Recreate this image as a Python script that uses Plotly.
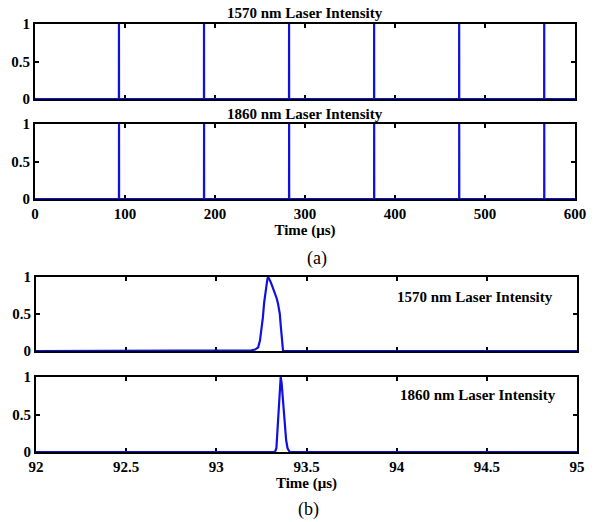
import plotly.graph_objects as go

# ---- data ----
pulse_times_1570 = [93.29, 187.8, 282.3, 376.8, 471.3, 565.8]
pulse_times_1860 = [93.36, 187.85, 282.35, 376.85, 471.35, 565.85]
pulse_halfwidth = 0.08
overview_ticks = [0, 100, 200, 300, 400, 500, 600]
zoom_ticks = [92, 92.5, 93, 93.5, 94, 94.5, 95]
zoom_tick_text = ["92", "92.5", "93", "93.5", "94", "94.5", "95"]
y_ticks = [0, 0.5, 1]
y_tick_text = ["0", "0.5", "1"]

zoom_t_1570 = [92.0, 93.18, 93.195, 93.215, 93.232, 93.242, 93.25, 93.258, 93.265, 93.275,
               93.283, 93.287, 93.292, 93.30, 93.311, 93.325, 93.335, 93.342, 93.348,
               93.352, 93.357, 93.361, 93.366, 93.37, 95.0]
zoom_i_1570 = [0, 0, 0.01, 0.02, 0.05, 0.14, 0.28, 0.45, 0.65, 0.85,
               0.97, 1.0, 0.98, 0.94, 0.87, 0.78, 0.71, 0.64, 0.57,
               0.5, 0.35, 0.2, 0.07, 0, 0]
zoom_t_1860 = [92.0, 93.325, 93.333, 93.338, 93.343, 93.347, 93.352, 93.357, 93.362,
               93.368, 93.374, 93.38, 93.387, 93.395, 93.407, 95.0]
zoom_i_1860 = [0, 0, 0.05, 0.25, 0.52, 0.75, 0.93, 1.0, 0.92,
               0.72, 0.52, 0.33, 0.16, 0.05, 0, 0]

titles = ["1570 nm Laser Intensity", "1860 nm Laser Intensity"]

W, H = 599, 522
BLUE = "#1010e0"
FONT = "Liberation Serif"
FS = 15


def b(s):
    return "<b>" + s + "</b>"


def pulse_train(times, hw, t0, t1):
    xs, ys = [t0], [0]
    for t in times:
        xs += [t - hw, t, t + hw]
        ys += [0, 1, 0]
    xs.append(t1)
    ys.append(0)
    return xs, ys


def ydom(top_px, bot_px):
    return [1 - bot_px / H, 1 - top_px / H]


fig = go.Figure()

x1, y1 = pulse_train(pulse_times_1570, pulse_halfwidth, 0, 600)
x2, y2 = pulse_train(pulse_times_1860, pulse_halfwidth, 0, 600)
line = dict(color=BLUE, width=2.2)
fig.add_trace(go.Scatter(x=x1, y=y1, mode="lines", line=line, xaxis="x", yaxis="y"))
fig.add_trace(go.Scatter(x=x2, y=y2, mode="lines", line=line, xaxis="x2", yaxis="y2"))
fig.add_trace(go.Scatter(x=zoom_t_1570, y=zoom_i_1570, mode="lines", line=line, xaxis="x3", yaxis="y3"))
fig.add_trace(go.Scatter(x=zoom_t_1860, y=zoom_i_1860, mode="lines", line=line, xaxis="x4", yaxis="y4"))

tickfont = dict(family=FONT, size=FS, color="black")

def xax(dom, rng, tickvals, ticktext, show, anchor, title=None):
    d = dict(domain=dom, range=rng, tickvals=tickvals, ticktext=[b(t) for t in ticktext],
             showticklabels=show, anchor=anchor, showline=True, linecolor="black",
             linewidth=2, mirror="ticks", ticks="inside", ticklen=4, tickwidth=1.5,
             tickcolor="black", showgrid=False, zeroline=False, tickfont=tickfont,
             layer="below traces", automargin=False, ticklabelstandoff=0)
    if title:
        d["title"] = dict(text=b(title), font=dict(family=FONT, size=FS, color="black"), standoff=0)
    return d

def yax(dom, anchor):
    return dict(domain=dom, range=[0, 1], tickvals=y_ticks, ticktext=[b(t) for t in y_tick_text],
                anchor=anchor, showline=True, linecolor="black", linewidth=2,
                mirror="ticks", ticks="inside", ticklen=4, tickwidth=1.5,
                tickcolor="black", showgrid=False, zeroline=False, tickfont=tickfont,
                layer="below traces", automargin=False, ticklabelstandoff=0)

xa_dom = [35 / W, 575 / W]
xb_dom = [36 / W, 577 / W]
ov_text = [str(v) for v in overview_ticks]

fig.update_layout(
    width=W, height=H, margin=dict(l=0, r=0, t=0, b=0),
    paper_bgcolor="white", plot_bgcolor="white", showlegend=False,
    xaxis=xax(xa_dom, [0, 600], overview_ticks, ov_text, False, "y"),
    yaxis=yax(ydom(24, 99), "x"),
    xaxis2=xax(xa_dom, [0, 600], overview_ticks, ov_text, True, "y2", "Time (μs)"),
    yaxis2=yax(ydom(124, 199), "x2"),
    xaxis3=xax(xb_dom, [92, 95], zoom_ticks, zoom_tick_text, False, "y3"),
    yaxis3=yax(ydom(277, 351), "x3"),
    xaxis4=xax(xb_dom, [92, 95], zoom_ticks, zoom_tick_text, True, "y4", "Time (μs)"),
    yaxis4=yax(ydom(377, 452), "x4"),
)

tfont = dict(family=FONT, size=FS, color="black")
ann = [
    dict(text=titles[0], x=305 / W, y=1 - 13 / H),
    dict(text=titles[1], x=305 / W, y=1 - 114 / H),
    dict(text=titles[0], x=475 / W, y=1 - 297 / H),
    dict(text=titles[1], x=478 / W, y=1 - 395 / H),
]
for a in ann:
    a["text"] = b(a["text"])
    fig.add_annotation(xref="paper", yref="paper", showarrow=False, font=tfont,
                       xanchor="center", yanchor="middle", **a)
fig.add_annotation(text="(a)", x=317 / W, y=1 - 258 / H, xref="paper", yref="paper",
                   showarrow=False, font=dict(family=FONT, size=18, color="black"))
fig.add_annotation(text="(b)", x=308 / W, y=1 / H, xref="paper", yref="paper",
                   yanchor="bottom", borderpad=0,
                   showarrow=False, font=dict(family=FONT, size=18, color="black"))

fig.write_html("out.html")
